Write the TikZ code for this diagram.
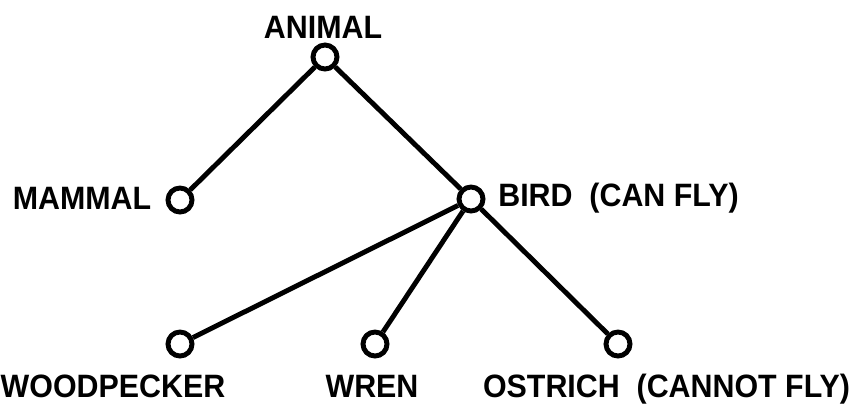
\documentclass[tikz,border=0pt]{standalone}
\usepackage{fontspec}
\setmainfont[FakeStretch=0.94]{Liberation Sans}
\begin{document}
\begin{tikzpicture}[line width=1.4pt,
    vertex/.style={circle, draw, fill=white, inner sep=0pt, minimum size=0.24cm},
    wordlabel/.style={inner sep=0pt, text height=6.6pt, text depth=0pt,
      font=\fontsize{9.2pt}{11pt}\selectfont\bfseries}]
  \useasboundingbox (0,0) rectangle (8.6,4.03);
          \node[vertex] (animal) at (3.25,3.46) {};
          \node[vertex] (mammal) at (1.80,2.03) {};
          \node[vertex] (bird) at (4.71,2.04) {};
          \node[vertex] (woodpecker) at (1.80,0.59) {};
          \node[vertex] (wren) at (3.75,0.59) {};
          \node[vertex] (ostrich) at (6.18,0.59) {};

          \node[wordlabel] (animal text) at (3.23,3.765) {ANIMAL};
          \node[wordlabel] (mammal text) at (0.82,2.055) {MAMMAL};
          \node[wordlabel] (bird text) at (6.185,2.08) {BIRD\ \ (CAN FLY)};
          \node[wordlabel] (woodpecker text) at (1.13,0.17) {WOODPECKER};
          \node[wordlabel] (wren text) at (3.72,0.17) {WREN};
          \node[wordlabel] (ostrich text) at (6.665,0.17) {OSTRICH\ \ (CANNOT FLY)};

          \draw (animal) -- (mammal);
          \draw (animal) -- (bird);
          \draw (bird) -- (woodpecker);
          \draw (bird) -- (wren);
          \draw (bird) -- (ostrich);
  \end{tikzpicture}
\end{document}
